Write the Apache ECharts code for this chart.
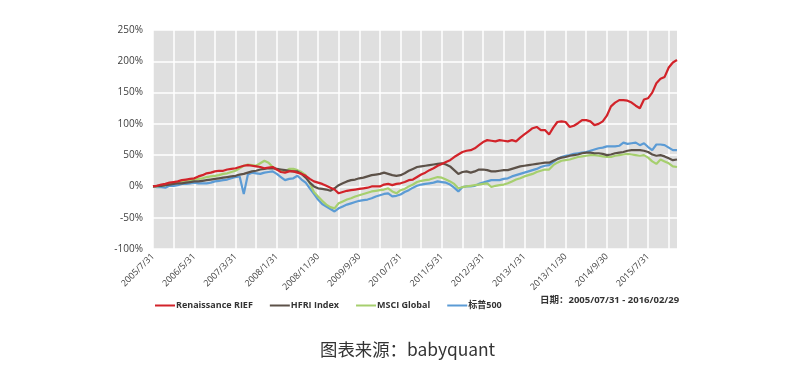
<!DOCTYPE html>
<html>
<head>
<meta charset="utf-8">
<script src="https://cdn.jsdelivr.net/npm/echarts@6/dist/echarts.min.js"></script>
<style>
html,body{margin:0;padding:0;background:#fff;}
#main{width:800px;height:366px;}
</style>
</head>
<body>
<div id="main"></div>
<script>
// Month-end dates 2005/7/31 .. 2016/2/29 (128 months)
const categories = (function () {
  const out = [];
  for (let y = 2005, m = 7; !(y === 2016 && m === 3); ) {
    const last = new Date(Date.UTC(y, m, 0)).getUTCDate();
    out.push(y + '/' + m + '/' + last);
    m++; if (m > 12) { m = 1; y++; }
  }
  return out;
})();

const yTicks = [-100, -50, 0, 50, 100, 150, 200, 250];

const renaissance = [0,1,3,4,6,7,8,10,11,12,13,16,18,21,22,24,25,25,27,28,29,31,33,34,33,32,31,29,30,31,27,23,22,24,24,22,20,17,12,8,6,4,1,-2,-5,-11,-9,-7,-6,-5,-4,-3,-2,0,0,0,3,4,2,4,5,7,10,11,15,19,22,26,29,33,36,39,42,47,51,55,57,58,61,66,71,74,73,72,74,73,72,74,72,78,83,88,93,95,90,90,83,94,103,104,103,95,97,101,106,106,104,98,100,104,113,128,134,138,138,137,134,129,125,139,141,150,165,172,175,190,198,202];

const hfri = [0,1,1,2,3,4,5,5,6,7,8,8,9,10,11,12,13,14,15,16,17,19,20,22,24,25,27,28,29,29,28,27,26,25,24,24,20,14,6,0,-3,-4,-5,-7,-3,2,5,8,10,11,13,14,16,18,19,20,22,20,18,17,18,21,25,28,31,32,33,34,35,36,37,35,32,26,20,23,24,22,24,27,27,26,24,24,25,26,26,28,30,32,33,34,35,36,37,38,38,41,44,46,47,49,50,51,53,54,54,53,53,52,50,51,53,54,55,57,58,58,58,57,55,51,49,50,48,45,42,43];

const msci = [0,0,1,2,4,5,6,7,9,10,11,12,13,15,16,17,18,20,21,23,25,29,33,35,34,33,37,41,38,31,27,25,24,28,28,26,23,18,5,-9,-16,-23,-29,-33,-35,-27,-24,-21,-19,-16,-14,-12,-10,-8,-7,-6,-5,-3,-8,-11,-6,-4,0,3,7,9,10,11,13,15,14,11,8,4,-3,-1,0,1,2,3,4,5,-1,1,2,3,5,8,11,13,16,18,20,23,25,27,27,34,38,41,42,43,45,47,48,49,50,50,49,48,47,47,49,50,51,52,51,50,49,50,46,40,36,43,40,37,32,31];

const sp500 = [0,-1,-1,-2,1,1,2,4,4,5,6,5,5,5,6,8,9,10,11,13,15,16,-12,19,22,21,20,22,23,24,20,15,10,12,13,17,11,6,-3,-12,-21,-28,-32,-36,-40,-35,-32,-29,-27,-25,-23,-22,-21,-19,-16,-14,-12,-11,-16,-15,-13,-9,-6,-2,1,3,4,5,6,8,7,6,3,-2,-8,-1,0,0,1,4,6,8,10,10,10,12,13,16,18,20,22,24,26,28,31,33,34,39,44,47,49,50,52,53,54,55,57,59,61,62,64,64,64,65,70,68,69,70,66,69,63,58,67,67,66,62,58,58];

const seriesNames = ['Renaissance RIEF', 'HFRI Index', 'MSCI Global', '标普500'];
const seriesColors = ['#d2232a', '#5c5148', '#a6cf6e', '#5b9bd5'];
const seriesData = [renaissance, hfri, msci, sp500];

const chart = echarts.init(document.getElementById('main'), null, {renderer: 'canvas'});
const fontFam = '"Open Sans", "Noto Sans CJK SC", sans-serif';

chart.setOption({
  backgroundColor: '#ffffff',
  animation: false,
  grid: {
    left: 153, right: 123, top: 30, bottom: 117,
    show: true, backgroundColor: '#dfdfdf', borderWidth: 0
  },
  legend: {
    left: 150, top: 296,
    itemWidth: 20, itemHeight: 2, itemGap: 17,
    icon: 'rect',
    textStyle: {fontSize: 9, fontWeight: 'bold', color: '#333', fontFamily: fontFam, padding: [0, 0, 0, -4]},
    data: seriesNames
  },
  graphic: [
    {type: 'text', left: 540, top: 296,
     style: {text: '日期：2005/07/31 - 2016/02/29', fontSize: 9.5, fontWeight: 'bold', fill: '#333', fontFamily: fontFam}},
    {type: 'text', left: 320, top: 341,
     style: {text: '图表来源：babyquant', fontSize: 17.4, fill: '#333', fontFamily: '"Noto Sans CJK SC", sans-serif'}}
  ],
  xAxis: {
    type: 'category',
    data: categories,
    boundaryGap: false,
    axisLine: {show: false},
    axisTick: {show: false},
    axisLabel: {interval: 9, rotate: 45, fontSize: 9, color: '#444', fontFamily: fontFam, margin: 6},
    splitLine: {show: true, interval: 4, lineStyle: {color: '#ffffff', width: 1.5}}
  },
  yAxis: {
    type: 'value',
    min: yTicks[0], max: yTicks[yTicks.length - 1], interval: 50,
    axisLine: {show: false},
    axisTick: {show: false},
    axisLabel: {formatter: '{value}%', fontSize: 10, color: '#404040', fontFamily: fontFam, margin: 10},
    splitLine: {show: true, lineStyle: {color: '#ffffff', width: 1.5}}
  },
  series: seriesData.map((d, k) => ({
    name: seriesNames[k],
    type: 'line',
    data: d,
    symbol: 'none',
    lineStyle: {width: 2.2, color: seriesColors[k]},
    itemStyle: {color: seriesColors[k]},
    z: 10 - k
  }))
});
</script>
</body>
</html>
